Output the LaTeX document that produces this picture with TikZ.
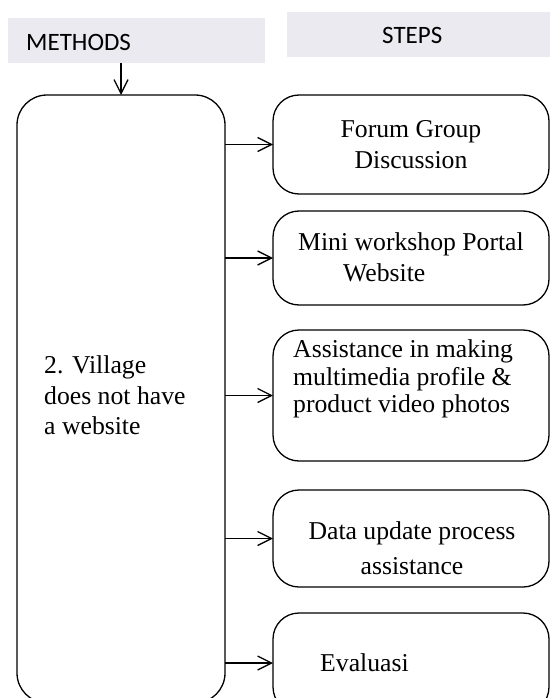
\documentclass[tikz,border=0pt]{standalone}
\usepackage{fontspec}
\setmainfont{Liberation Serif}
\newfontfamily\hdrfont{Carlito}
\usetikzlibrary{arrows.meta}
\definecolor{hdrfill}{HTML}{ECEAF1}
\begin{document}
\begin{tikzpicture}[x=1pt,y=-1pt,
  hdrbox/.style={fill=hdrfill,draw=none,inner sep=0pt,outer sep=0pt},
  stepbox/.style={draw=black,line width=1.3pt,rounded corners=26pt,inner sep=0pt,outer sep=0pt,minimum width=276pt},
  mainbox/.style={draw=black,line width=1.3pt,rounded corners=30pt,inner sep=0pt,outer sep=0pt,minimum width=208pt,minimum height=608pt},
  txt/.style={anchor=base west,inner sep=0pt,font=\fontsize{25.7}{30}\selectfont},
  ctxt/.style={anchor=base,inner sep=0pt,font=\fontsize{25.7}{30}\selectfont},
  htxt/.style={anchor=base west,inner sep=0pt,font=\hdrfont\fontsize{25}{30}\selectfont},
  arr/.style={line width=1.3pt,-{Straight Barb[length=14pt,width=14pt,line width=1.3pt]}}]
\useasboundingbox (0,0) rectangle (550,698);
\clip (0,0) rectangle (550,698);
\fill[white] (0,0) rectangle (550,698);
% headers
\node[hdrbox,minimum width=257pt,minimum height=45pt] (hm) at (136.5,40.5) {};
\node[hdrbox,minimum width=263pt,minimum height=45pt] (hs) at (418.5,34.5) {};
\node[htxt] (tm) at (26,51) {METHODS};
\node[htxt] (ts) at (382,44) {STEPS};
% main box
\node[mainbox] (m) at (121,399) {};
\node[txt] (m1) at (44,373) {2. Village};
\node[txt] (m2) at (44,404) {does not have};
\node[txt] (m3) at (44,434) {a website};
% step boxes
\node[stepbox,minimum height=99pt] (s1) at (411,144.5) {};
\node[stepbox,minimum height=94pt] (s2) at (411,258) {};
\node[stepbox,minimum height=131pt] (s3) at (411,395.5) {};
\node[stepbox,minimum height=97pt] (s4) at (411,538.5) {};
\node[stepbox,minimum height=100pt] (s5) at (411,663) {};
% step texts
\node[ctxt] (a1) at (411,137) {Forum Group};
\node[ctxt] (a2) at (411,168) {Discussion};
\node[txt] (b1) at (298,250) {Mini workshop Portal};
\node[txt] (b2) at (343,281) {Website};
\node[txt] (c1) at (293,357) {Assistance in making};
\node[txt] (c2) at (293,385) {multimedia profile \&};
\node[txt] (c3) at (293,412) {product video photos};
\node[ctxt] (d1) at (412,539) {Data update process};
\node[ctxt] (d2) at (412,574) {assistance};
\node[txt] (e1) at (320,671) {Evaluasi};
% connectors
\draw[arr] (hm.south -| m.north) -- (m.north);
\draw[arr] (m.east |- s1.west) -- (s1.west);
\draw[arr] (m.east |- s2.west) -- (s2.west);
\draw[arr] (m.east |- s3.west) -- (s3.west);
\draw[arr] (m.east |- s4.west) -- (s4.west);
\draw[arr] (m.east |- s5.west) -- (s5.west);
\end{tikzpicture}
\end{document}
